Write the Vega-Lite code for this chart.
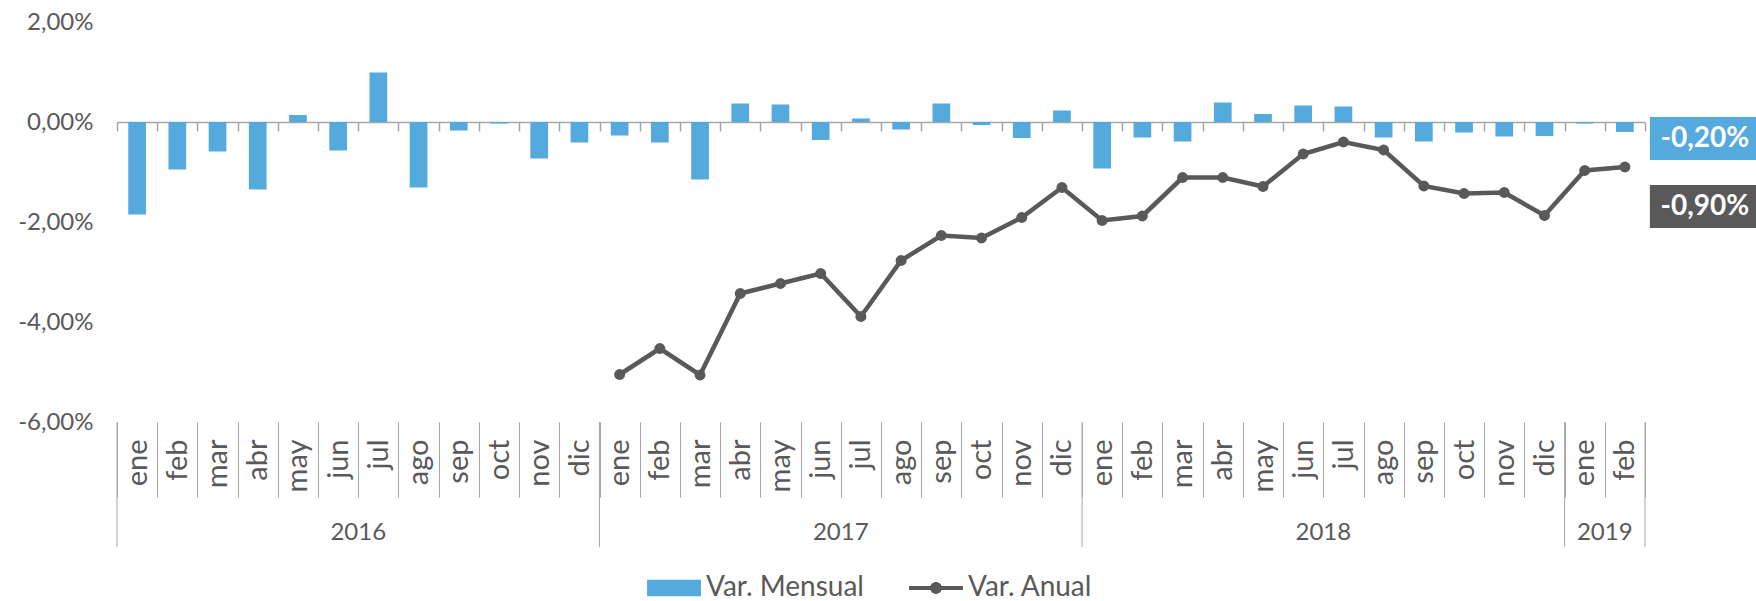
{
  "$schema": "https://vega.github.io/schema/vega-lite/v6.json",
  "width": 1528,
  "height": 400,
  "autosize": {"type": "none"},
  "padding": {"left": 117, "top": 22, "right": 111, "bottom": 179},
  "background": "white",
  "config": {
    "view": {"stroke": null},
    "font": "Lato",
    "locale": {"number": {"decimal": ",", "thousands": ".", "grouping": [3], "currency": ["", " €"], "minus": "-"}},
    "axis": {"labelFont": "Lato", "labelColor": "#595959", "labelFontSize": 24, "grid": false}
  },
  "datasets": {
    "mensual": [
      {"k": "ene 2016", "v": -1.85}, {"k": "feb 2016", "v": -0.95}, {"k": "mar 2016", "v": -0.59}, {"k": "abr 2016", "v": -1.35},
      {"k": "may 2016", "v": 0.14}, {"k": "jun 2016", "v": -0.57}, {"k": "jul 2016", "v": 0.99}, {"k": "ago 2016", "v": -1.31},
      {"k": "sep 2016", "v": -0.17}, {"k": "oct 2016", "v": -0.03}, {"k": "nov 2016", "v": -0.73}, {"k": "dic 2016", "v": -0.41},
      {"k": "ene 2017", "v": -0.27}, {"k": "feb 2017", "v": -0.41}, {"k": "mar 2017", "v": -1.15}, {"k": "abr 2017", "v": 0.37},
      {"k": "may 2017", "v": 0.35}, {"k": "jun 2017", "v": -0.36}, {"k": "jul 2017", "v": 0.07}, {"k": "ago 2017", "v": -0.15},
      {"k": "sep 2017", "v": 0.37}, {"k": "oct 2017", "v": -0.06}, {"k": "nov 2017", "v": -0.32}, {"k": "dic 2017", "v": 0.23},
      {"k": "ene 2018", "v": -0.93}, {"k": "feb 2018", "v": -0.31}, {"k": "mar 2018", "v": -0.39}, {"k": "abr 2018", "v": 0.39},
      {"k": "may 2018", "v": 0.16}, {"k": "jun 2018", "v": 0.33}, {"k": "jul 2018", "v": 0.31}, {"k": "ago 2018", "v": -0.31},
      {"k": "sep 2018", "v": -0.39}, {"k": "oct 2018", "v": -0.21}, {"k": "nov 2018", "v": -0.29}, {"k": "dic 2018", "v": -0.28},
      {"k": "ene 2019", "v": -0.03}, {"k": "feb 2019", "v": -0.20}
    ],
    "anual": [
      {"k": "ene 2017", "v": -5.05}, {"k": "feb 2017", "v": -4.53}, {"k": "mar 2017", "v": -5.06}, {"k": "abr 2017", "v": -3.43},
      {"k": "may 2017", "v": -3.23}, {"k": "jun 2017", "v": -3.03}, {"k": "jul 2017", "v": -3.89}, {"k": "ago 2017", "v": -2.77},
      {"k": "sep 2017", "v": -2.27}, {"k": "oct 2017", "v": -2.32}, {"k": "nov 2017", "v": -1.91}, {"k": "dic 2017", "v": -1.31},
      {"k": "ene 2018", "v": -1.97}, {"k": "feb 2018", "v": -1.88}, {"k": "mar 2018", "v": -1.11}, {"k": "abr 2018", "v": -1.11},
      {"k": "may 2018", "v": -1.29}, {"k": "jun 2018", "v": -0.64}, {"k": "jul 2018", "v": -0.40}, {"k": "ago 2018", "v": -0.56},
      {"k": "sep 2018", "v": -1.28}, {"k": "oct 2018", "v": -1.43}, {"k": "nov 2018", "v": -1.41}, {"k": "dic 2018", "v": -1.87},
      {"k": "ene 2019", "v": -0.97}, {"k": "feb 2019", "v": -0.90}
    ],
    "yearStarts": [{"k": "ene 2016"}, {"k": "ene 2017"}, {"k": "ene 2018"}, {"k": "ene 2019"}],
    "yearEnd": [{"k": "feb 2019"}],
    "yearLabels": [
      {"k": "jul 2016", "year": "2016"}, {"k": "jul 2017", "year": "2017"},
      {"k": "jul 2018", "year": "2018"}, {"k": "feb 2019", "year": "2019"}
    ],
    "lastMensual": [{"k": "feb 2019", "v": -0.20, "label": "-0,20%"}],
    "lastAnual": [{"k": "feb 2019", "v": -0.90, "label": "-0,90%"}]
  },
  "layer": [
    {
      "data": {"name": "mensual"},
      "mark": {"type": "bar", "width": {"band": 0.44}},
      "encoding": {
        "x": {
          "field": "k", "type": "ordinal",
          "scale": {
            "domain": ["ene 2016","feb 2016","mar 2016","abr 2016","may 2016","jun 2016","jul 2016","ago 2016","sep 2016","oct 2016","nov 2016","dic 2016",
                       "ene 2017","feb 2017","mar 2017","abr 2017","may 2017","jun 2017","jul 2017","ago 2017","sep 2017","oct 2017","nov 2017","dic 2017",
                       "ene 2018","feb 2018","mar 2018","abr 2018","may 2018","jun 2018","jul 2018","ago 2018","sep 2018","oct 2018","nov 2018","dic 2018",
                       "ene 2019","feb 2019"],
            "paddingInner": 0, "paddingOuter": 0
          },
          "axis": {
            "orient": "bottom", "title": null, "domain": false,
            "labelAngle": -90, "labelAlign": "right", "labelBaseline": "middle",
            "labelExpr": "split(datum.label, ' ')[0]",
            "tickBand": "extent", "tickSize": 75, "tickColor": "#A6A6A6", "tickWidth": 1,
            "labelPadding": -58, "labelFontSize": 29
          }
        },
        "y": {
          "field": "v", "type": "quantitative",
          "scale": {"domain": [-6, 2], "nice": false, "zero": false},
          "axis": {
            "title": null, "domain": false, "ticks": false, "grid": false,
            "values": [-6, -4, -2, 0, 2], "format": ".2f",
            "labelExpr": "datum.label + '%'", "labelPadding": 24, "labelFontSize": 24
          }
        },
        "color": {
          "datum": "Var. Mensual", "type": "nominal",
          "scale": {"domain": ["Var. Mensual", "Var. Anual"], "range": ["#54A9DD", "#595959"]},
          "legend": {
            "orient": "none", "legendX": 530, "legendY": 539, "direction": "horizontal",
            "title": null, "symbolSize": 2900, "labelFontSize": 28, "labelColor": "#595959", "labelFont": "Lato",
            "labelOffset": 5, "columnPadding": 45, "padding": 0,
            "encode": {
              "symbols": {
                "update": {
                  "shape": {"signal": "datum.value === 'Var. Mensual' ? 'M-1,-0.31H1V0.31H-1Z' : 'M-1,-0.075H1V0.075H-1Z M-0.22,0A0.22,0.22 0 1,1 0.22,0A0.22,0.22 0 1,1 -0.22,0Z'"},
                  "fill": {"signal": "scale('color', datum.value)"},
                  "stroke": {"value": "transparent"},
                  "strokeWidth": {"value": 0},
                  "opacity": {"value": 1}
                }
              }
            }
          }
        }
      }
    },
    {
      "data": {"name": "anual"},
      "mark": {"type": "line", "strokeWidth": 4.5, "point": {"filled": true, "size": 120}},
      "encoding": {
        "x": {
          "field": "k", "type": "ordinal",
          "axis": {
            "orient": "top", "offset": -100, "title": null, "labels": false,
            "tickBand": "extent", "tickSize": -9, "tickColor": "#A6A6A6", "tickWidth": 1.5,
            "domainColor": "#A6A6A6", "domainWidth": 1.5
          }
        },
        "y": {"field": "v", "type": "quantitative"},
        "color": {"datum": "Var. Anual", "type": "nominal"}
      }
    },
    {
      "data": {"name": "yearStarts"},
      "mark": {"type": "rule", "color": "#A6A6A6", "strokeWidth": 1},
      "encoding": {
        "x": {"field": "k", "type": "ordinal", "bandPosition": 0, "axis": null},
        "y": {"datum": -6, "type": "quantitative"},
        "y2": {"datum": -8.5}
      }
    },
    {
      "data": {"name": "yearEnd"},
      "mark": {"type": "rule", "color": "#A6A6A6", "strokeWidth": 1},
      "encoding": {
        "x": {"field": "k", "type": "ordinal", "bandPosition": 1, "axis": null},
        "y": {"datum": -6, "type": "quantitative"},
        "y2": {"datum": -8.5}
      }
    },
    {
      "data": {"name": "yearLabels"},
      "mark": {"type": "text", "fontSize": 24, "color": "#595959", "font": "Lato", "align": "center", "baseline": "middle"},
      "encoding": {
        "x": {"field": "k", "type": "ordinal", "bandPosition": 0, "axis": null},
        "y": {"datum": -8.22, "type": "quantitative"},
        "text": {"field": "year"}
      }
    },
    {
      "data": {"name": "lastMensual"},
      "mark": {"type": "point", "filled": true, "opacity": 1, "color": "#54A9DD", "strokeWidth": 0, "size": 11664, "shape": "M-1,-0.4H1V0.4H-1Z", "xOffset": 79, "yOffset": 6.5},
      "encoding": {
        "x": {"field": "k", "type": "ordinal", "axis": null},
        "y": {"field": "v", "type": "quantitative"}
      }
    },
    {
      "data": {"name": "lastMensual"},
      "mark": {"type": "text", "fontSize": 28, "fontWeight": "bold", "color": "white", "font": "Lato", "align": "center", "baseline": "middle", "xOffset": 80, "yOffset": 6.5},
      "encoding": {
        "x": {"field": "k", "type": "ordinal", "axis": null},
        "y": {"field": "v", "type": "quantitative"},
        "text": {"field": "label"}
      }
    },
    {
      "data": {"name": "lastAnual"},
      "mark": {"type": "point", "filled": true, "opacity": 1, "color": "#595959", "strokeWidth": 0, "size": 11664, "shape": "M-1,-0.4H1V0.4H-1Z", "xOffset": 79, "yOffset": 39.5},
      "encoding": {
        "x": {"field": "k", "type": "ordinal", "axis": null},
        "y": {"field": "v", "type": "quantitative"}
      }
    },
    {
      "data": {"name": "lastAnual"},
      "mark": {"type": "text", "fontSize": 28, "fontWeight": "bold", "color": "white", "font": "Lato", "align": "center", "baseline": "middle", "xOffset": 80, "yOffset": 39.5},
      "encoding": {
        "x": {"field": "k", "type": "ordinal", "axis": null},
        "y": {"field": "v", "type": "quantitative"},
        "text": {"field": "label"}
      }
    }
  ],
  "resolve": {"axis": {"x": "independent"}}
}
